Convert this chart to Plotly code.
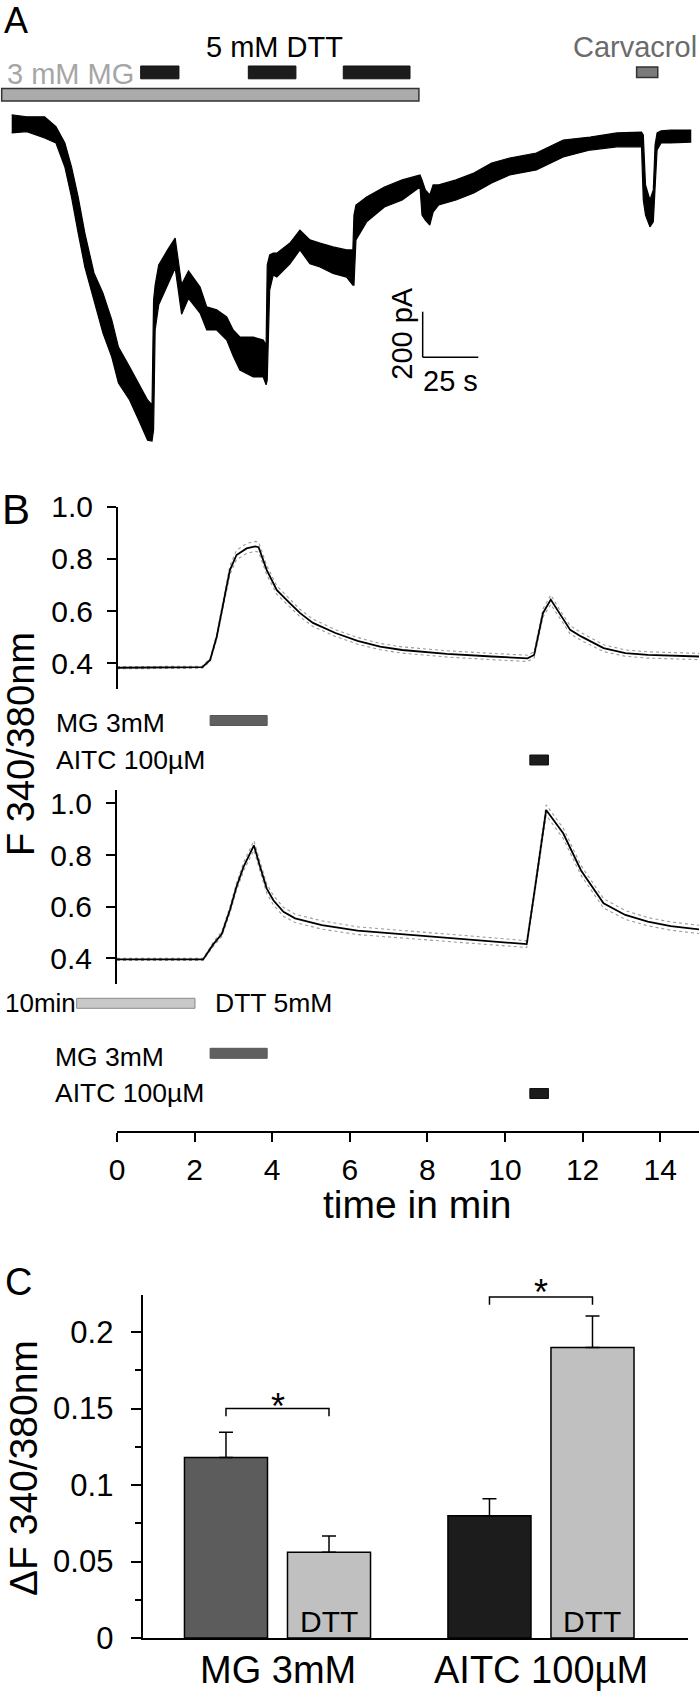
import plotly.graph_objects as go

W, H = 700, 1692
def fx(px):
    return px / W
def fy(py):
    return 1 - py / H

FONT = "Liberation Sans, Arial, Helvetica, sans-serif"

# ---------------- Panel A: whole-cell current (time in s, current in pA) -------------
A_T = [0, 6.8, 14.8, 19.9, 23.9, 26.9, 29.9, 32.9, 37.0, 41.0, 45.0, 48.0, 53.0, 57.1,
       61.1, 63.1, 63.8, 64.5, 66.1, 70.1, 73.5, 76.4, 79.5, 84.7, 87.7, 92.2, 96.7, 99.6,
       102.6, 108.6, 113.1, 114.4, 114.9, 116.0, 117.6, 119.2, 125.1, 129.6, 134.1, 138.6,
       144.5, 150.6, 153.4, 153.9, 154.8, 159.6, 167.6, 175.6, 183.6, 184.5, 186.0, 188.0,
       189.5, 192.0, 199.8, 207.8, 215.8, 223.9, 235.9, 248.0, 260.1, 272.1, 283.2, 284.0,
       285.0, 287.0, 288.5, 289.3, 290.2, 292.0, 296.2, 305.3]
A_UPPER = [44, 36, 36, -7, -79, -184, -316, -474, -649, -737, -855, -974, -1061, -1132,
           -1206, -1228, -768, -702, -614, -548, -496, -700, -640, -711, -798, -811, -842, -899,
           -930, -930, -943, -965, -614, -570, -562, -562, -518, -461, -504, -518,
           -535, -548, -548, -395, -351, -316, -272, -241, -219, -241, -285, -307,
           -263, -263, -241, -211, -167, -145, -123, -66, -53, -35, -31, -44,
           -263, -329, -285, -88, -35, -26, -22, -22]
A_LOWER = [-35, -29, -57, -79, -184, -316, -474, -623, -768, -912, -1018, -1132, -1206, -1294,
           -1382, -1386, -1338, -899, -789, -702, -627, -830, -760, -825, -899, -899, -943, -1013,
           -1075, -1105, -1105, -1140, -1118, -724, -658, -667, -609, -548, -609, -623,
           -651, -667, -702, -702, -504, -425, -360, -329, -272, -395, -417, -439,
           -382, -351, -329, -298, -254, -219, -197, -140, -110, -96, -96, -329,
           -395, -447, -425, -285, -110, -79, -79, -75]

A_MG = (-4.5, 183.1)
A_DTT = [(58.0, 75.2), (106.4, 127.8), (149.1, 179.1)]
A_CARVACROL = (281.0, 290.5)
A_SCALE_T = 25      # s
A_SCALE_I = 200     # pA
A_SCALE_ORIGIN = (184.8, -1019)

# ---------------- Panel B: Fura-2 ratio traces (time in min) ------------------------
B1_T = [0, 1.0, 2.0, 2.2, 2.4, 2.57, 2.74, 2.91, 3.08, 3.34, 3.56, 3.65, 3.86, 4.12, 4.46,
        4.72, 5.05, 5.63, 6.2, 6.78, 7.35, 8.5, 9.66, 10.58, 10.75, 10.98, 11.18, 11.39,
        11.68, 11.96, 12.54, 13.1, 13.68, 15.0]
B1_V = [0.383, 0.383, 0.383, 0.385, 0.413, 0.502, 0.63, 0.757, 0.815, 0.84, 0.848, 0.845,
        0.757, 0.68, 0.63, 0.592, 0.555, 0.516, 0.486, 0.464, 0.451, 0.436, 0.426, 0.419,
        0.432, 0.593, 0.644, 0.593, 0.528, 0.503, 0.458, 0.439, 0.432, 0.426]
B1_SEM = [0.004, 0.004, 0.004, 0.004, 0.006, 0.010, 0.014, 0.017, 0.018, 0.019, 0.019, 0.019,
          0.018, 0.016, 0.015, 0.014, 0.014, 0.013, 0.013, 0.012, 0.012, 0.012, 0.012, 0.012,
          0.012, 0.016, 0.018, 0.017, 0.016, 0.015, 0.013, 0.012, 0.012, 0.012]

B2_T = [0, 1.0, 2.0, 2.22, 2.48, 2.7, 2.91, 3.08, 3.26, 3.38, 3.53, 3.69, 3.86, 4.03, 4.29,
        4.59, 5.28, 6.2, 7.35, 8.5, 9.66, 10.56, 10.8, 11.06, 11.5, 11.96, 12.54, 13.1,
        13.68, 14.27, 15.0]
B2_V = [0.396, 0.395, 0.395, 0.396, 0.454, 0.494, 0.587, 0.677, 0.754, 0.792, 0.837, 0.754,
        0.67, 0.625, 0.58, 0.555, 0.529, 0.507, 0.494, 0.48, 0.466, 0.455, 0.70, 0.974,
        0.884, 0.74, 0.613, 0.568, 0.542, 0.525, 0.512]
B2_SEM = [0.004, 0.004, 0.004, 0.004, 0.008, 0.010, 0.012, 0.014, 0.016, 0.017, 0.018, 0.018,
          0.018, 0.018, 0.017, 0.016, 0.016, 0.015, 0.015, 0.014, 0.014, 0.013, 0.016, 0.020,
          0.020, 0.019, 0.018, 0.017, 0.016, 0.016, 0.016]

B_MG = (2.4, 3.87)
B_AITC = (10.64, 11.12)
B_DTT = (-1.04, 2.01)
TIME_TICKS = [0, 2, 4, 6, 8, 10, 12, 14]

# ---------------- Panel C: bar chart -------------------------------------------------
C_CATS = ["MG 3mM", "AITC 100µM"]
C_CTRL = [0.118, 0.080]
C_CTRL_ERR = [0.0165, 0.011]
C_DTT = [0.056, 0.190]
C_DTT_ERR = [0.0107, 0.0205]
C_CTRL_COLORS = ["#5c5c5c", "#1c1c1c"]
C_DTT_COLOR = "#c0c0c0"
C_BRACKET_Y = [0.15, 0.223]

BARGAP = 0.218
BARGROUPGAP = 0.194
OFF = (1 - BARGAP) / 4

fig = go.Figure()

# Panel A trace as a band
fig.add_trace(go.Scatter(x=A_T + A_T[::-1], y=A_UPPER + A_LOWER[::-1], fill="toself",
                         fillcolor="black", mode="lines", line=dict(color="black", width=1.2),
                         xaxis="x", yaxis="y", hoverinfo="skip", showlegend=False))

# Panel B traces
def add_b(T, V, S, xa, ya):
    up = [v + s for v, s in zip(V, S)]
    lo = [v - s for v, s in zip(V, S)]
    for arr in (up, lo):
        fig.add_trace(go.Scatter(x=T, y=arr, mode="lines", xaxis=xa, yaxis=ya,
                                 line=dict(color="#9a9a9a", width=1.1, dash="dot"),
                                 hoverinfo="skip", showlegend=False))
    fig.add_trace(go.Scatter(x=T, y=V, mode="lines", xaxis=xa, yaxis=ya,
                             line=dict(color="black", width=1.8),
                             hoverinfo="skip", showlegend=False))

add_b(B1_T, B1_V, B1_SEM, "x2", "y2")
add_b(B2_T, B2_V, B2_SEM, "x3", "y3")

# dummy for time axis subplot
fig.add_trace(go.Scatter(x=[0], y=[0], mode="markers", marker=dict(opacity=0),
                         xaxis="x4", yaxis="y4", hoverinfo="skip", showlegend=False))

# Panel C bars
fig.add_trace(go.Bar(x=C_CATS, y=C_CTRL, xaxis="x5", yaxis="y5",
                     marker=dict(color=C_CTRL_COLORS, line=dict(color="black", width=1.5)),
                     error_y=dict(type="data", symmetric=False, array=C_CTRL_ERR,
                                  arrayminus=[0] * len(C_CTRL), color="black",
                                  thickness=1.5, width=7),
                     showlegend=False, hoverinfo="skip"))
fig.add_trace(go.Bar(x=C_CATS, y=C_DTT, xaxis="x5", yaxis="y5",
                     marker=dict(color=C_DTT_COLOR, line=dict(color="black", width=1.5)),
                     error_y=dict(type="data", symmetric=False, array=C_DTT_ERR,
                                  arrayminus=[0] * len(C_DTT), color="black",
                                  thickness=1.5, width=7),
                     showlegend=False, hoverinfo="skip"))

shapes = []
def rect_paper_y(xref, x0, x1, py0, py1, fill, line_color, lw=1):
    shapes.append(dict(type="rect", xref=xref, yref="paper", x0=x0, x1=x1,
                       y0=fy(py1), y1=fy(py0), fillcolor=fill,
                       line=dict(color=line_color, width=lw)))

# Panel A stimulus bars
rect_paper_y("x", A_MG[0], A_MG[1], 88.5, 101, "#ababab", "#333333", 1.5)
for t0, t1 in A_DTT:
    rect_paper_y("x", t0, t1, 66, 78.8, "#1c1c1c", "#111111", 1)
rect_paper_y("x", A_CARVACROL[0], A_CARVACROL[1], 67, 77.5, "#7a7a7a", "#333333", 1.5)

# Panel A scale bar
sx, sy = A_SCALE_ORIGIN
shapes.append(dict(type="line", xref="x", yref="y", x0=sx, x1=sx, y0=sy, y1=sy + A_SCALE_I,
                   line=dict(color="black", width=1.5)))
shapes.append(dict(type="line", xref="x", yref="y", x0=sx, x1=sx + A_SCALE_T, y0=sy, y1=sy,
                   line=dict(color="black", width=1.5)))

# Panel B stimulus bars (x2 shares the time scale, extended to the left)
rect_paper_y("x2", B_MG[0], B_MG[1], 715.5, 725.5, "#606060", "#555555", 1)
rect_paper_y("x2", B_AITC[0], B_AITC[1], 755, 765, "#1c1c1c", "#111111", 1)
rect_paper_y("x2", B_DTT[0], B_DTT[1], 998.3, 1008.3, "#c8c8c8", "#8a8a8a", 1)
rect_paper_y("x2", B_MG[0], B_MG[1], 1048.3, 1058.3, "#606060", "#555555", 1)
rect_paper_y("x2", B_AITC[0], B_AITC[1], 1088.5, 1098.5, "#1c1c1c", "#111111", 1)

# Panel C brackets
TICK_DROP = 0.005
for i, by in enumerate(C_BRACKET_Y):
    shapes.append(dict(type="path", xref="x5", yref="y5",
                       path=f"M {i-OFF},{by-TICK_DROP} L {i-OFF},{by} L {i+OFF},{by} L {i+OFF},{by-TICK_DROP}",
                       line=dict(color="black", width=1.5)))

ann = []
def txt(text, px, py, size, color="black", xanchor="center", angle=0):
    ann.append(dict(text=text, x=fx(px), y=fy(py), xref="paper", yref="paper",
                    xanchor=xanchor, yanchor="middle", showarrow=False, textangle=angle,
                    font=dict(size=size, color=color, family=FONT)))

txt("A", 2, 20, 36, xanchor="left")
txt("B", 0, 509, 42, xanchor="left")
txt("C", 3, 1282, 38, xanchor="left")
txt("3 mM MG", 5, 74, 29, color="#a6a6a6", xanchor="left")
txt("5 mM DTT", 274, 47.5, 29)
txt("Carvacrol", 699, 47.5, 29, color="#6b6b6b", xanchor="right")
txt("200 pA", 401.7, 333, 29, angle=-90)
txt("25 s", 450.5, 381, 29)
txt("MG 3mM", 53.6, 723, 26.5, xanchor="left")
txt("AITC 100µM", 53.6, 760, 26.5, xanchor="left")
txt("10min", 3, 1003, 26, xanchor="left")
txt("DTT 5mM", 213, 1003, 26.5, xanchor="left")
txt("MG 3mM", 53, 1056.7, 26.5, xanchor="left")
txt("AITC 100µM", 53, 1093.3, 26.5, xanchor="left")
txt("F 340/380nm", 21, 744, 38, angle=-90)
txt("time in min", 417, 1204, 39)
txt("ΔF 340/380nm", 23, 1468, 39, angle=-90)

for i, c in enumerate(C_CATS):
    ann.append(dict(text=c, x=i, y=fy(1670), xref="x5", yref="paper", showarrow=False,
                    xanchor="center", yanchor="middle", font=dict(size=38, family=FONT, color="black")))
    ann.append(dict(text="DTT", x=i + OFF, y=fy(1621), xref="x5", yref="paper", showarrow=False,
                    xanchor="center", yanchor="middle", font=dict(size=30, family=FONT, color="black")))
STAR_PY = [1406, 1292]
for i, spy in enumerate(STAR_PY):
    ann.append(dict(text="*", x=i, y=fy(spy), xref="x5", yref="paper", showarrow=False,
                    xanchor="center", yanchor="middle", font=dict(size=36, family=FONT, color="black")))

yb = dict(showline=True, linewidth=2, linecolor="black", ticks="outside", ticklen=9,
          tickwidth=2, tickcolor="black", tickvals=[0.4, 0.6, 0.8, 1.0], tickformat=".1f",
          tickfont=dict(size=30, family=FONT, color="black"), showgrid=False, zeroline=False,
          ticklabelstandoff=8, automargin=False)

fig.update_layout(
    template="plotly_white",
    width=W, height=H, margin=dict(l=0, r=0, t=0, b=0, pad=0, autoexpand=False),
    paper_bgcolor="white", plot_bgcolor="white", showlegend=False,
    barmode="group", bargap=BARGAP, bargroupgap=BARGROUPGAP,
    xaxis=dict(domain=[0, 1], range=[-5.26, 309.5], visible=False, anchor="y", automargin=False),
    yaxis=dict(domain=[fy(480), 1], range=[-1557, 548], visible=False, anchor="x", automargin=False),
    xaxis2=dict(domain=[0, fx(699)], range=[-117 / 38.8, 15], visible=False, anchor="y2",
                automargin=False),
    yaxis2=dict(domain=[fy(689.4), fy(506.7)], range=[0.3, 1.0], anchor="free",
                position=fx(117), **yb),
    xaxis3=dict(domain=[fx(117), fx(699)], range=[0, 15], visible=False, anchor="y3",
                automargin=False),
    yaxis3=dict(domain=[fy(984.2), fy(790.4)], range=[0.3, 1.05], anchor="x3", **yb),
    xaxis4=dict(domain=[fx(117), fx(699)], range=[0, 15], anchor="y4", showline=True,
                linewidth=2, linecolor="black", ticks="outside", ticklen=9, tickwidth=2,
                tickcolor="black", tickvals=TIME_TICKS,
                tickfont=dict(size=30, family=FONT, color="black"), showgrid=False,
                zeroline=False, ticklabelstandoff=2, automargin=False),
    yaxis4=dict(domain=[fy(1130.5), fy(1000)], range=[0, 1], visible=False, anchor="x4",
                automargin=False),
    xaxis5=dict(domain=[fx(142.6), fx(688)], type="category", range=[-0.512, 1.558],
                anchor="y5", showline=True, linewidth=2, linecolor="black", ticks="",
                showticklabels=False, showgrid=False, zeroline=False, automargin=False),
    yaxis5=dict(domain=[fy(1638), fy(1295)], range=[0, 0.2243], anchor="x5", showline=True,
                linewidth=2, linecolor="black", ticks="outside", ticklen=10, tickwidth=2,
                tickcolor="black", tick0=0, dtick=0.05,
                minor=dict(dtick=0.025, ticklen=6, tickwidth=2, ticks="outside",
                           tickcolor="black", showgrid=False),
                tickfont=dict(size=31, family=FONT, color="black"), showgrid=False,
                zeroline=False, ticklabelstandoff=11, automargin=False),
    shapes=shapes, annotations=ann,
)

fig.write_html("out.html", config={"displayModeBar": False, "staticPlot": True},
               post_script="document.body.style.margin='0px';")
